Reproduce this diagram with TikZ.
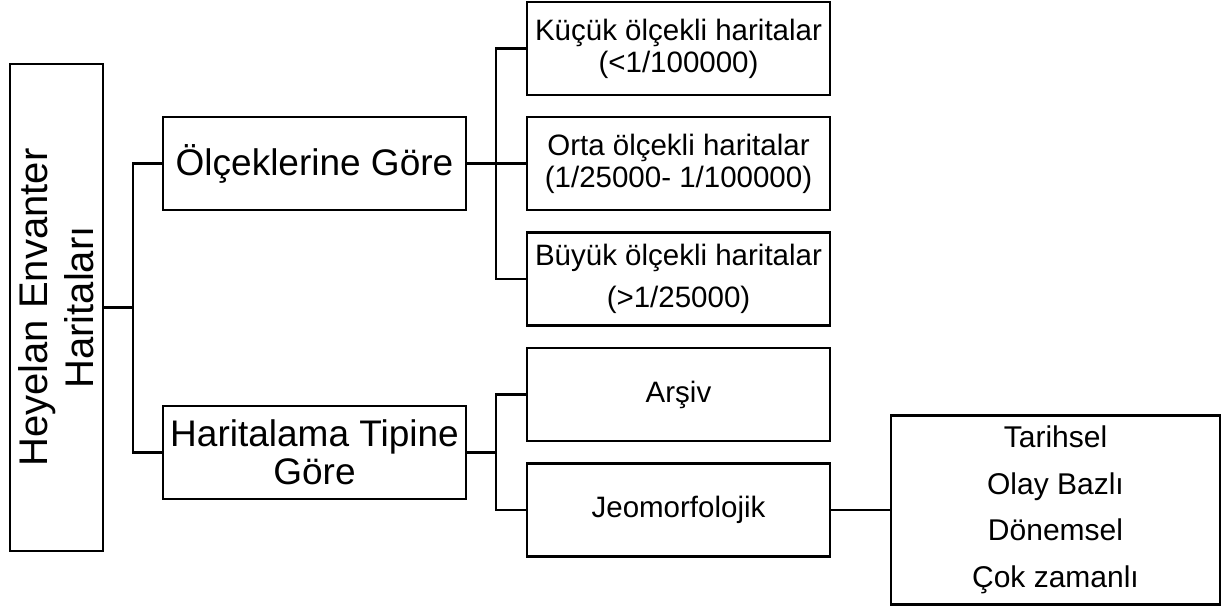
\documentclass[tikz,border=0pt]{standalone}
\usepackage{fontspec}
\setmainfont{Liberation Sans}

\begin{document}
\begin{tikzpicture}[x=1pt,y=-1pt,line width=2.6pt,
    box/.style={draw,inner sep=0pt,align=center,minimum height=93pt},
    midbox/.style={box,minimum width=303pt,font=\fontsize{37}{38}\selectfont},
    leafbox/.style={box,minimum width=303pt,font=\fontsize{29.5}{32}\selectfont}]
  \useasboundingbox (0,0) rectangle (1224,607);

  % root, text runs upward
  \node[box,rotate=90,minimum width=487pt,font=\fontsize{40}{46}\selectfont]
    (root) at (56.5,307.5) {Heyelan Envanter\\Haritaları};

  \node[midbox] (olcek) at (314.5,163.5) {Ölçeklerine Göre};
  \node[midbox] (tip) at (314.5,452.5) {Haritalama Tipine\\Göre};

  \node[leafbox] (kucuk) at (678.5,48.5) {Küçük ölçekli haritalar\\(<1/100000)};
  \node[leafbox] (orta) at (678.5,163.5) {Orta ölçekli haritalar\\(1/25000- 1/100000)};
  \node[leafbox,font=\fontsize{29.5}{42}\selectfont]
    (buyuk) at (678.5,279) {Büyük ölçekli haritalar\\(>1/25000)};
  \node[leafbox] (arsiv) at (678.5,394.5) {Arşiv};
  \node[leafbox] (jeo) at (678.5,510) {Jeomorfolojik};

  \node[box,minimum width=329pt,minimum height=189pt,font=\fontsize{30}{46.5}\selectfont]
    (zaman) at (1055.5,510) {Tarihsel\\Olay Bazlı\\Dönemsel\\Çok zamanlı};

  % connectors
  \coordinate (b1) at (133,307.5);
  \coordinate (b2) at (496,163.5);
  \coordinate (b3) at (496,452.5);

  \draw (root.south) -- (b1);
  \draw (olcek.west) -| (b1) |- (tip.west);

  \draw (olcek.east) -- (orta.west);
  \draw (kucuk.west) -| (b2) |- (buyuk.west);

  \draw (tip.east) -- (b3);
  \draw (arsiv.west) -| (b3) |- (jeo.west);

  \draw (jeo.east) -- (zaman.west);
\end{tikzpicture}
\end{document}
